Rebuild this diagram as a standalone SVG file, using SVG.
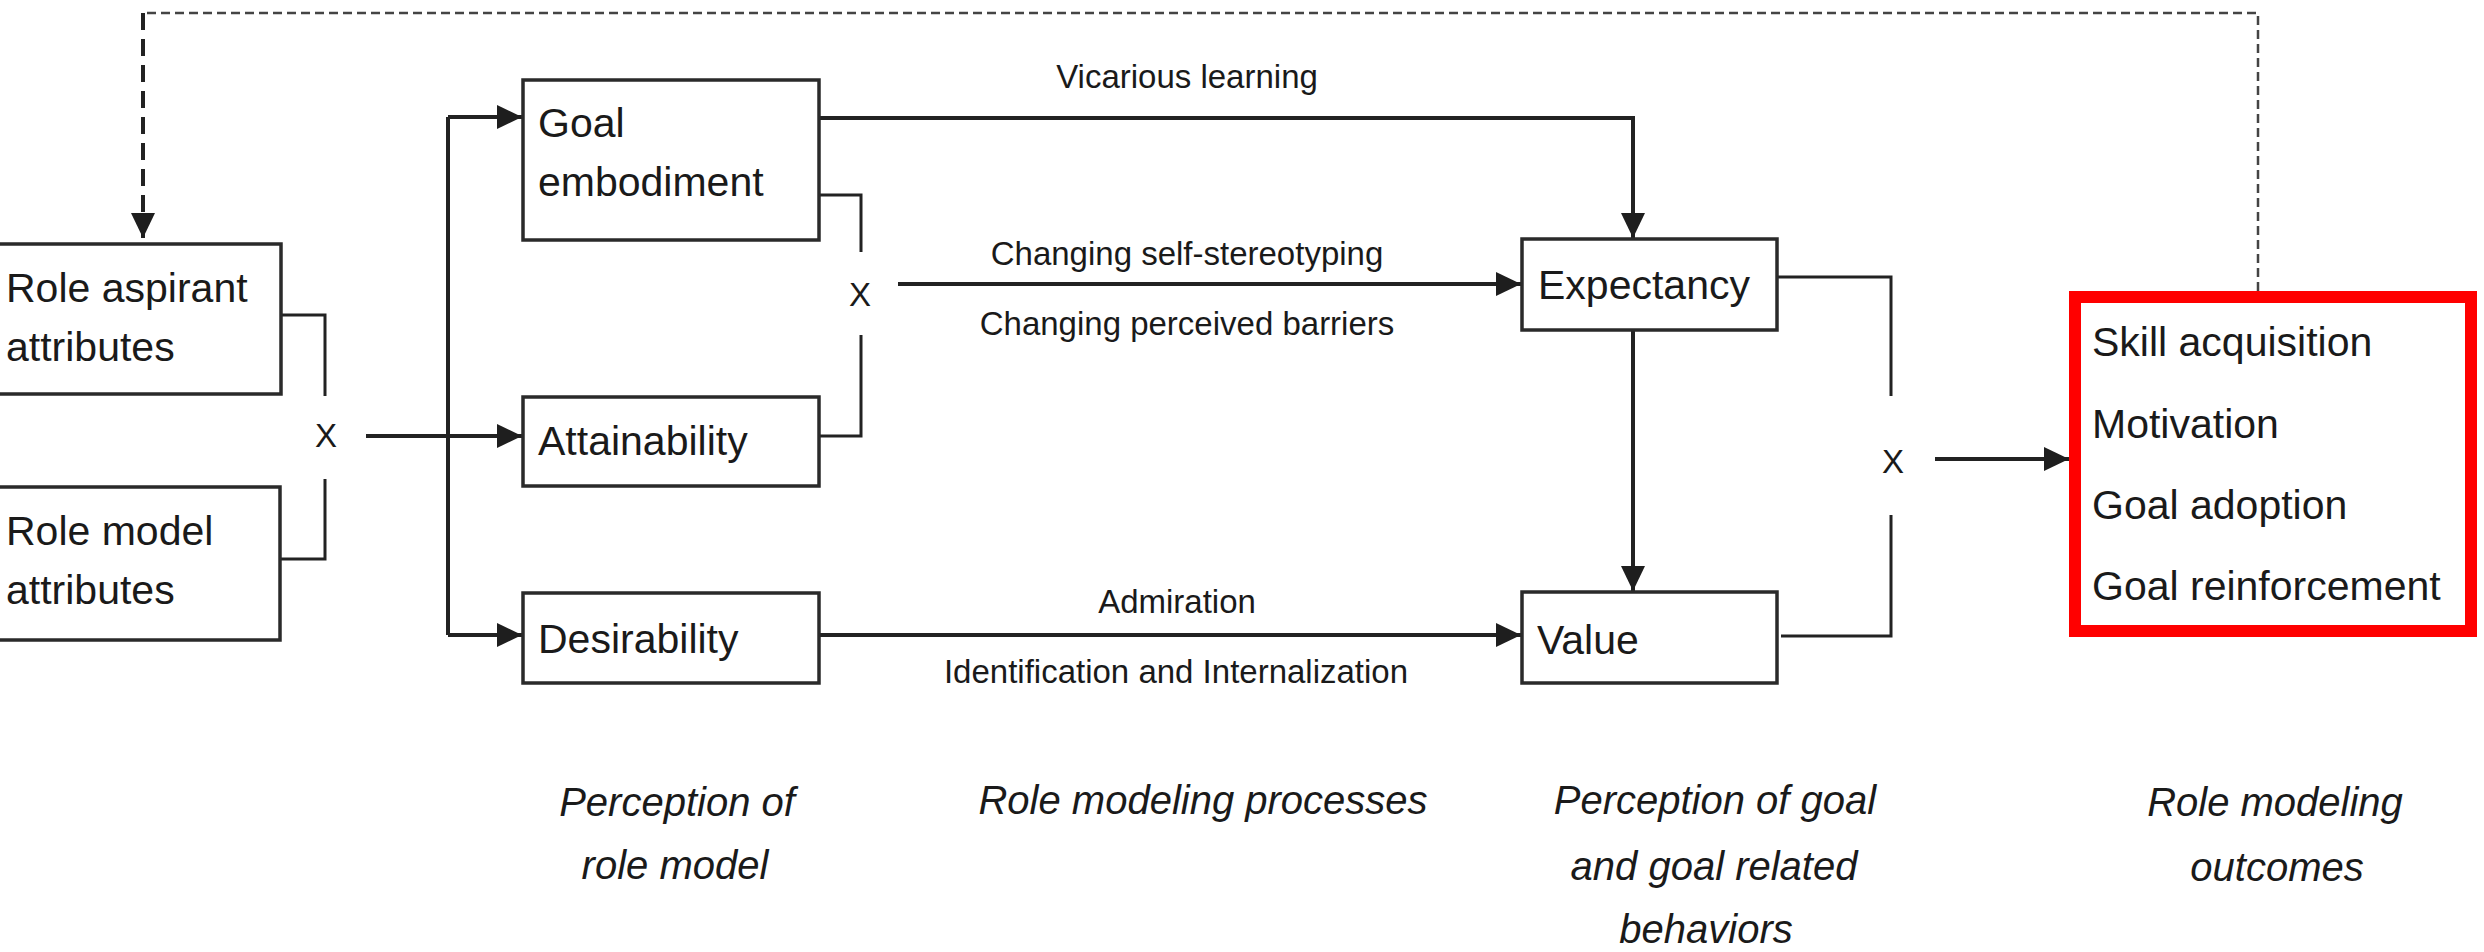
<svg xmlns="http://www.w3.org/2000/svg" width="2484" height="952" viewBox="0 0 2484 952">
<style>
  .box { fill: #ffffff; stroke: #2a2a2a; stroke-width: 3.5; }
  .node { font-family: "Liberation Sans", Arial, sans-serif; font-size: 41px; fill: #1a1a1a; }
  .lbl { font-family: "Liberation Sans", Arial, sans-serif; font-size: 33px; fill: #1a1a1a; text-anchor: middle; }
  .x { font-family: "Liberation Sans", Arial, sans-serif; font-size: 33px; fill: #1a1a1a; text-anchor: middle; }
  .cap { font-family: "Liberation Sans", Arial, sans-serif; font-size: 40px; font-style: italic; fill: #1a1a1a; text-anchor: middle; }
  .ln { fill: none; stroke: #222222; stroke-width: 4; }
  .thin { fill: none; stroke: #222222; stroke-width: 3; }
  .arr { fill: none; stroke: #222222; stroke-width: 4; marker-end: url(#ah); }
</style>
<defs>
  <marker id="ah" viewBox="0 0 25 24" refX="25" refY="12" markerWidth="25" markerHeight="24" markerUnits="userSpaceOnUse" orient="auto">
    <path d="M0,0 L25,12 L0,24 Z" fill="#1e1e1e"/>
  </marker>
</defs>
<rect width="2484" height="952" fill="#ffffff"/>

<g id="connectors">
  <!-- feedback dashed -->
  <path d="M2258,291 V13 H143" fill="none" stroke="#444" stroke-width="2.5" stroke-dasharray="9 5"/>
  <path d="M143,13 V238" fill="none" stroke="#222" stroke-width="4" stroke-dasharray="17 9" marker-end="url(#ah)"/>
  <!-- attributes bracket -->
  <path class="thin" d="M281,315 H325 V396"/>
  <path class="thin" d="M325,479 V559 H280"/>
  <path class="arr" d="M366,436 H522"/>
  <!-- bus -->
  <path class="ln" d="M448,117 V635"/>
  <path class="arr" d="M448,117 H522"/>
  <path class="arr" d="M448,635 H522"/>
  <!-- goal embodiment x attainability -->
  <path class="thin" d="M819,195 H861 V252"/>
  <path class="thin" d="M861,335 V436 H819"/>
  <path class="arr" d="M898,284 H1521"/>
  <!-- vicarious learning -->
  <path class="arr" d="M819,118 H1633 V238"/>
  <!-- expectancy to value -->
  <path class="arr" d="M1633,330 V591"/>
  <!-- desirability to value -->
  <path class="arr" d="M819,635 H1521"/>
  <!-- expectancy x value -->
  <path class="thin" d="M1777,277 H1891 V396"/>
  <path class="thin" d="M1891,515 V636 H1781"/>
  <path class="arr" d="M1935,459 H2069"/>
  <!-- x labels -->
  <text class="x" x="326" y="447">X</text>
  <text class="x" x="860" y="306">X</text>
  <text class="x" x="1893" y="473">X</text>
  <!-- edge labels -->
  <text class="lbl" x="1187" y="88">Vicarious learning</text>
  <text class="lbl" x="1187" y="265">Changing self-stereotyping</text>
  <text class="lbl" x="1187" y="335">Changing perceived barriers</text>
  <text class="lbl" x="1177" y="613">Admiration</text>
  <text class="lbl" x="1176" y="683">Identification and Internalization</text>
</g>

<g id="role-aspirant">
  <rect class="box" x="-5" y="244" width="286" height="150"/>
  <text class="node" x="6" y="302">Role aspirant</text>
  <text class="node" x="6" y="361">attributes</text>
</g>
<g id="role-model">
  <rect class="box" x="-5" y="487" width="285" height="153"/>
  <text class="node" x="6" y="545">Role model</text>
  <text class="node" x="6" y="604">attributes</text>
</g>
<g id="goal-embodiment">
  <rect class="box" x="523" y="80" width="296" height="160"/>
  <text class="node" x="538" y="137">Goal</text>
  <text class="node" x="538" y="196">embodiment</text>
</g>
<g id="attainability">
  <rect class="box" x="523" y="397" width="296" height="89"/>
  <text class="node" x="538" y="455">Attainability</text>
</g>
<g id="desirability">
  <rect class="box" x="523" y="593" width="296" height="90"/>
  <text class="node" x="538" y="653">Desirability</text>
</g>
<g id="expectancy">
  <rect class="box" x="1522" y="239" width="255" height="91"/>
  <text class="node" x="1538" y="299">Expectancy</text>
</g>
<g id="value">
  <rect class="box" x="1522" y="592" width="255" height="91"/>
  <text class="node" x="1537" y="654">Value</text>
</g>
<g id="outcomes">
  <rect x="2075" y="297" width="396" height="334" fill="#ffffff" stroke="#ff0000" stroke-width="12"/>
  <text class="node" x="2092" y="356">Skill acquisition</text>
  <text class="node" x="2092" y="438">Motivation</text>
  <text class="node" x="2092" y="519">Goal adoption</text>
  <text class="node" x="2092" y="600">Goal reinforcement</text>
</g>

<g id="captions">
  <text class="cap" x="677" y="816">Perception of</text>
  <text class="cap" x="675" y="879">role model</text>
  <text class="cap" x="1203" y="814">Role modeling processes</text>
  <text class="cap" x="1715" y="814">Perception of goal</text>
  <text class="cap" x="1714" y="880">and goal related</text>
  <text class="cap" x="1706" y="943">behaviors</text>
  <text class="cap" x="2275" y="816">Role modeling</text>
  <text class="cap" x="2277" y="881">outcomes</text>
</g>
</svg>
